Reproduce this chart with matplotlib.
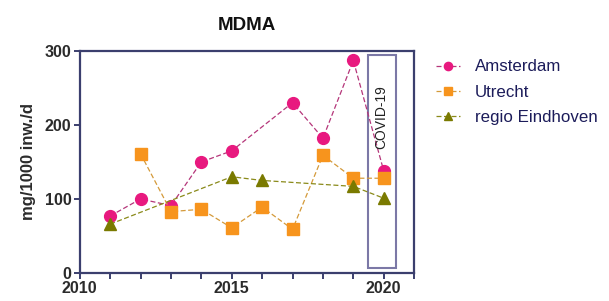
import matplotlib.pyplot as plt
from matplotlib.patches import Rectangle
from matplotlib.ticker import MultipleLocator

plt.rcParams['font.family'] = ['Liberation Sans', 'DejaVu Sans']

# data
ams_years = [2011, 2012, 2013, 2014, 2015, 2017, 2018, 2019, 2020]
ams_vals = [77, 100, 91, 150, 165, 230, 182, 287, 138]

utr_years = [2012, 2013, 2014, 2015, 2016, 2017, 2018, 2019, 2020]
utr_vals = [161, 83, 86, 61, 89, 59, 159, 128, 128]

ein_years = [2011, 2015, 2016, 2019, 2020]
ein_vals = [66, 130, 125, 117, 101]

series_names = ["Amsterdam", "Utrecht", "regio Eindhoven"]

axis_col = "#3b3f6e"
text_col = "#2b2b2b"

fig = plt.figure(figsize=(6.09, 3.01), dpi=100)
ax = fig.add_axes([0.131, 0.093, 0.549, 0.738])

ax.plot(ams_years, ams_vals, ls=(0, (4, 2)), lw=0.9, color="#b5367a",
        marker="o", ms=8.5, mfc="#e8197f", mec="#e8197f", label=series_names[0])
ax.plot(utr_years, utr_vals, ls=(0, (4, 2)), lw=0.9, color="#d49a3a",
        marker="s", ms=8.5, mfc="#f7941d", mec="#f7941d", label=series_names[1])
ax.plot(ein_years, ein_vals, ls=(0, (4, 2)), lw=0.9, color="#8a8a1a",
        marker="^", ms=8.5, mfc="#7a7a00", mec="#7a7a00", label=series_names[2])

# covid box
ax.add_patch(Rectangle((2019.47, 7), 0.93, 288, fill=False, ec="#7b78a6", lw=1.5, zorder=1))
ax.text(2019.93, 211, "COVID-19", rotation=90, ha="center", va="center",
        fontsize=10, color="#222222")

ax.set_xlim(2010, 2021)
ax.set_ylim(0, 300)
ax.set_xticks([2010, 2015, 2020])
ax.xaxis.set_minor_locator(MultipleLocator(1))
ax.set_yticks([0, 100, 200, 300])

for sp in ax.spines.values():
    sp.set_color(axis_col)
    sp.set_linewidth(1.6)
ax.tick_params(which="both", direction="out", length=4, width=1.4, color=axis_col,
               labelsize=11.5, labelcolor=text_col, pad=2)
for lab in ax.get_xticklabels() + ax.get_yticklabels():
    lab.set_fontweight("bold")

ax.set_ylabel("mg/1000 inw./d", fontsize=12, fontweight="bold", color=text_col, labelpad=6)
fig.text(0.405, 0.915, "MDMA", ha="center", va="center", fontsize=13.5,
         fontweight="bold", color="#111111")

leg = ax.legend(loc="upper left", bbox_to_anchor=(1.02, 1.03), frameon=False,
                fontsize=12.2, handlelength=1.4, labelspacing=0.6,
                markerscale=0.7, handletextpad=0.9)
for t in leg.get_texts():
    t.set_color("#1c1c5a")

fig.savefig("out.png", dpi=100)
